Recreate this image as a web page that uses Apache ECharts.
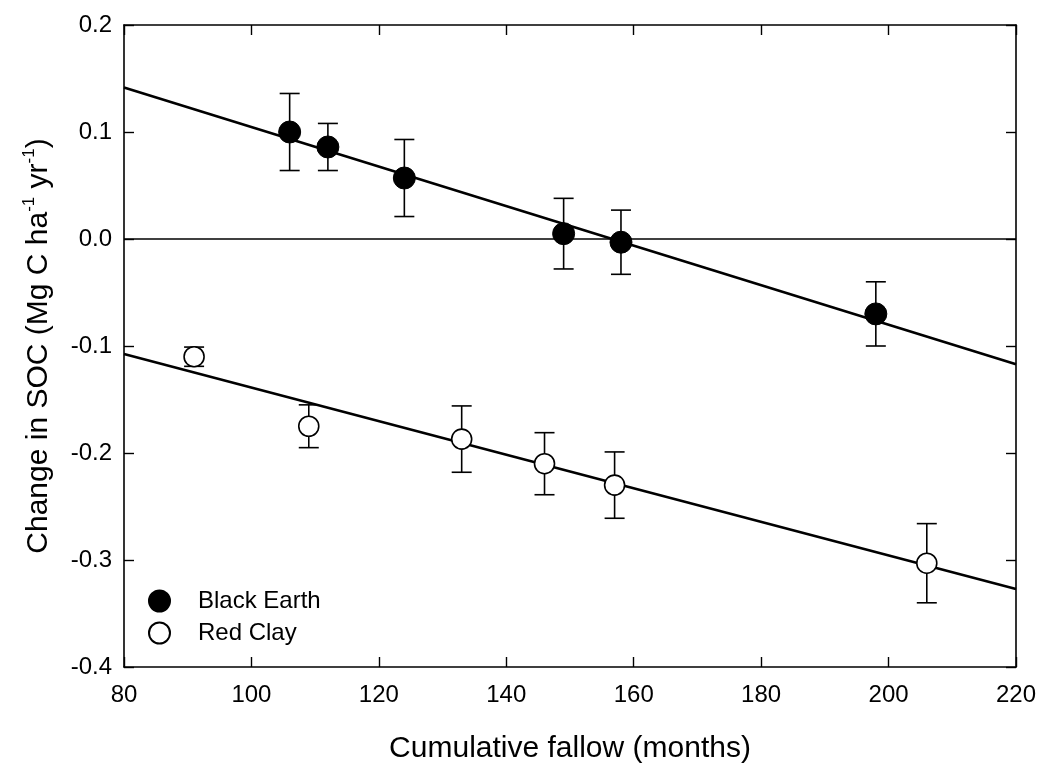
<!DOCTYPE html>
<html>
<head>
<meta charset="utf-8">
<script src="https://cdn.jsdelivr.net/npm/echarts@6/dist/echarts.min.js"></script>
<style>html,body{margin:0;padding:0;background:#fff;}#c{width:1041px;height:763px;}</style>
</head>
<body>
<div id="c"></div>
<script>
// Data
var blackX = [106, 112, 124, 149, 158, 198];
var blackY = [0.100, 0.086, 0.057, 0.005, -0.003, -0.070];
var blackErr = [0.036, 0.022, 0.036, 0.033, 0.030, 0.030];

var redX = [91, 109, 133, 146, 157, 206];
var redY = [-0.110, -0.175, -0.187, -0.210, -0.230, -0.303];
var redErr = [0.009, 0.020, 0.031, 0.029, 0.031, 0.037];

// Regression line end points (x = 80 and x = 220)
var fitX = [80, 220];
var blackFit = [0.1415, -0.117];
var redFit = [-0.1075, -0.327];

var xTicks = [80, 100, 120, 140, 160, 180, 200, 220];
var yTicks = [-0.4, -0.3, -0.2, -0.1, 0.0, 0.1, 0.2];

var FONT = 'Liberation Sans, Arial, sans-serif';

function pts(xs, ys) { return xs.map(function (x, i) { return [x, ys[i]]; }); }
function errPts(xs, ys, es) { return xs.map(function (x, i) { return [x, ys[i], es[i]]; }); }

function renderErr(params, api) {
  var x = api.value(0), y = api.value(1), e = api.value(2);
  var top = api.coord([x, y + e]);
  var bot = api.coord([x, y - e]);
  var hw = 10;
  var st = { stroke: '#000', lineWidth: 1.6 };
  return {
    type: 'group',
    children: [
      { type: 'line', shape: { x1: top[0], y1: top[1], x2: bot[0], y2: bot[1] }, style: st },
      { type: 'line', shape: { x1: top[0] - hw, y1: top[1], x2: top[0] + hw, y2: top[1] }, style: st },
      { type: 'line', shape: { x1: bot[0] - hw, y1: bot[1], x2: bot[0] + hw, y2: bot[1] }, style: st }
    ]
  };
}

var chart = echarts.init(document.getElementById('c'), null, { renderer: 'canvas' });

var axisLine = { show: true, onZero: false, lineStyle: { color: '#000', width: 1.6 } };
var axisTick = { show: true, inside: true, length: 10, lineStyle: { color: '#000', width: 1.4 } };

var option = {
  backgroundColor: '#fff',
  animation: false,
  grid: { left: 124, right: 25, top: 25, bottom: 96, containLabel: false, outerBoundsMode: 'none' },
  legend: {
    orient: 'vertical',
    left: 143,
    top: 584,
    itemWidth: 21,
    itemHeight: 21,
    itemGap: 8,
    data: ['Black Earth', 'Red Clay'],
    textStyle: { fontFamily: FONT, fontSize: 24, color: '#000', padding: [0, 0, 0, 23] }
  },
  xAxis: [
    {
      type: 'value', min: xTicks[0], max: xTicks[xTicks.length - 1], interval: 20,
      position: 'bottom',
      name: 'Cumulative fallow (months)', nameLocation: 'middle', nameGap: 67,
      nameTextStyle: { fontFamily: FONT, fontSize: 30, color: '#000' },
      axisLine: axisLine, axisTick: axisTick,
      axisLabel: { fontFamily: FONT, fontSize: 24, color: '#000', margin: 16 },
      splitLine: { show: false }
    },
    {
      type: 'value', min: xTicks[0], max: xTicks[xTicks.length - 1], interval: 20,
      position: 'top',
      axisLine: axisLine, axisTick: axisTick, axisLabel: { show: false }, splitLine: { show: false }
    }
  ],
  yAxis: [
    {
      type: 'value', min: yTicks[0], max: yTicks[yTicks.length - 1], interval: 0.1,
      position: 'left',
      name: '{a|Change in SOC (Mg C ha}{s|-1}{a| yr}{s|-1}{a|)}',
      nameLocation: 'middle', nameGap: 67, nameRotate: 90,
      nameTextStyle: {
        color: '#000',
        rich: {
          a: { fontFamily: FONT, fontSize: 30, color: '#000', lineHeight: 36 },
          s: { fontFamily: FONT, fontSize: 17, color: '#000', lineHeight: 17, verticalAlign: 'top' }
        }
      },
      axisLine: axisLine, axisTick: axisTick,
      axisLabel: {
        fontFamily: FONT, fontSize: 24, color: '#000', margin: 12,
        formatter: function (v) { return v.toFixed(1); }
      },
      splitLine: { show: false }
    },
    {
      type: 'value', min: yTicks[0], max: yTicks[yTicks.length - 1], interval: 0.1,
      position: 'right',
      axisLine: axisLine, axisTick: axisTick, axisLabel: { show: false }, splitLine: { show: false }
    }
  ],
  series: [
    {
      name: 'zero', type: 'line', data: [], silent: true, z: 1,
      markLine: {
        silent: true, symbol: ['none', 'none'], label: { show: false },
        lineStyle: { color: '#000', width: 1.6, type: 'solid' },
        data: [{ yAxis: 0 }]
      }
    },
    {
      name: 'fitBlack', type: 'line', data: pts(fitX, blackFit), showSymbol: false, silent: true, z: 2,
      lineStyle: { color: '#000', width: 2.6 }
    },
    {
      name: 'fitRed', type: 'line', data: pts(fitX, redFit), showSymbol: false, silent: true, z: 2,
      lineStyle: { color: '#000', width: 2.6 }
    },
    {
      name: 'errBlack', type: 'custom', renderItem: renderErr, data: errPts(blackX, blackY, blackErr), z: 3,
      encode: { x: 0, y: 1 }
    },
    {
      name: 'errRed', type: 'custom', renderItem: renderErr, data: errPts(redX, redY, redErr), z: 3,
      encode: { x: 0, y: 1 }
    },
    {
      name: 'Black Earth', type: 'scatter', data: pts(blackX, blackY), symbol: 'circle', symbolSize: 22, z: 4,
      itemStyle: { color: '#000', borderColor: '#000', borderWidth: 1, opacity: 1 }
    },
    {
      name: 'Red Clay', type: 'scatter', data: pts(redX, redY), symbol: 'circle', symbolSize: 20, z: 4,
      itemStyle: { color: '#fff', borderColor: '#000', borderWidth: 1.6, opacity: 1 }
    }
  ]
};
chart.setOption(option);
</script>
</body>
</html>
